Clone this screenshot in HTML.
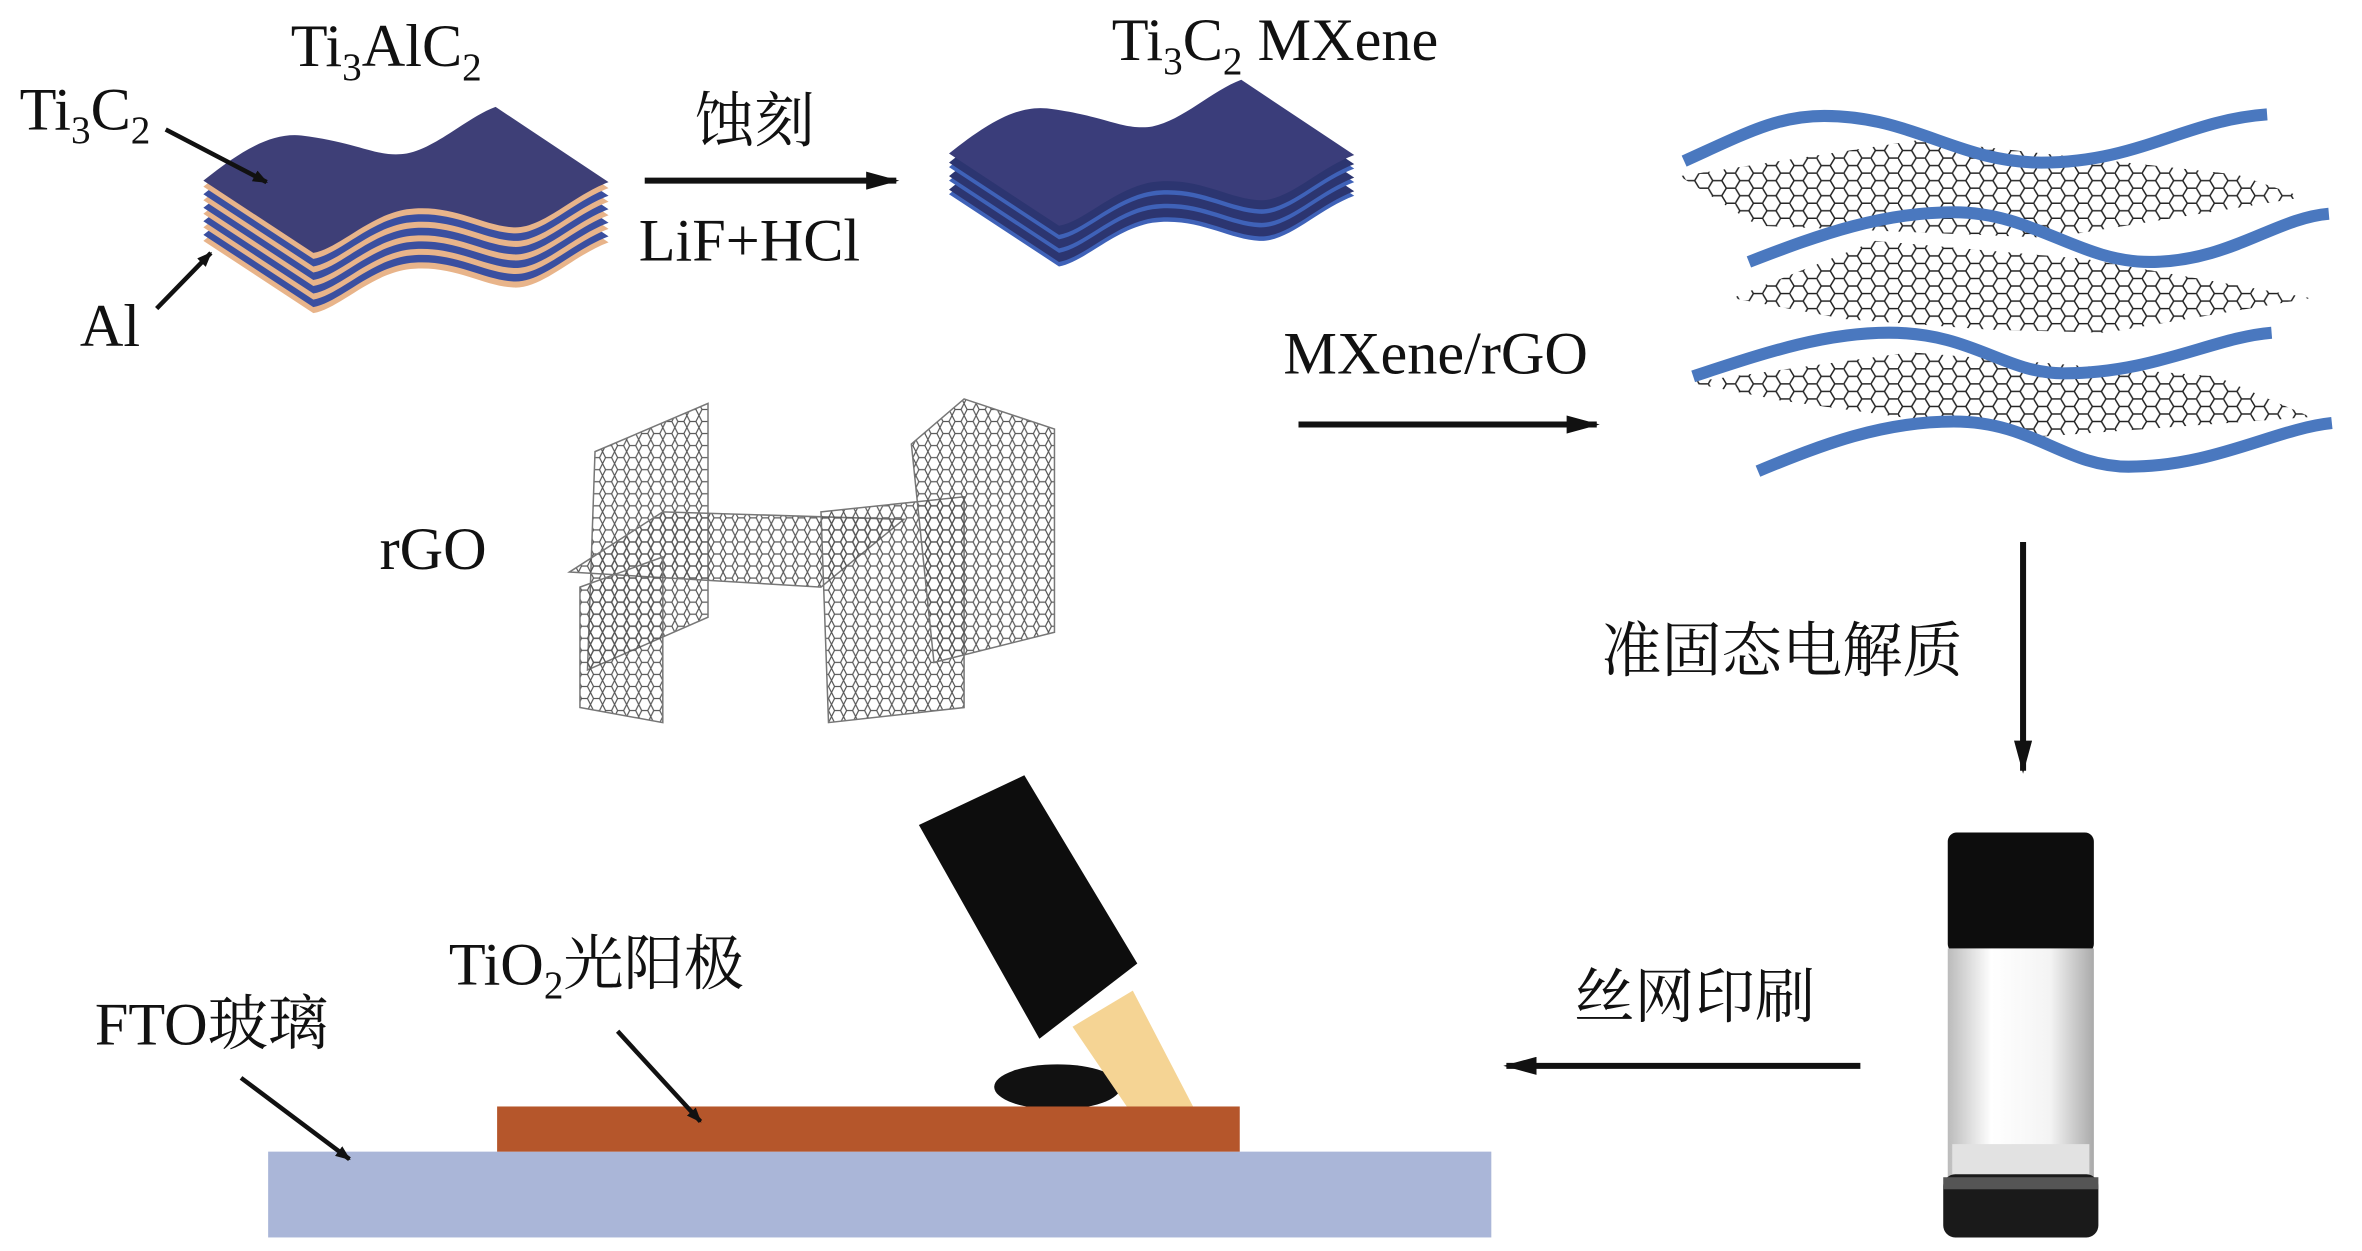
<!DOCTYPE html>
<html><head><meta charset="utf-8"><style>
html,body{margin:0;padding:0;background:#fff}
svg{display:block}
text{font-family:"Liberation Serif","Noto Serif CJK SC",serif;font-size:40px;fill:#111}
</style></head><body>
<svg width="2362" height="1251" viewBox="0 0 1568 831" preserveAspectRatio="none" xmlns="http://www.w3.org/2000/svg">
<defs>
<marker id="ah" markerWidth="10" markerHeight="8" refX="9" refY="4" orient="auto" markerUnits="userSpaceOnUse"><path d="M0,0 L10,4 L0,8 Z" fill="#111"/></marker>
<marker id="ah2" markerWidth="22" markerHeight="12" refX="20" refY="6" orient="auto" markerUnits="userSpaceOnUse"><path d="M0,0 L22,6 L0,12 Z" fill="#111"/></marker>
<pattern id="hex" width="18" height="10" patternUnits="userSpaceOnUse">
<path d="M0,5 L3,0 L9,0 L12,5 L9,10 L3,10 Z M12,5 L18,5" fill="none" stroke="#222" stroke-width="1"/>
</pattern>
<pattern id="mesh" width="8" height="8" patternUnits="userSpaceOnUse">
<path d="M0,4 L2,0 L6,0 L8,4 L6,8 L2,8 Z" fill="none" stroke="#555" stroke-width="0.8"/>
</pattern>
<path id="sheet" d="M135,120 C160,100 180,88 200,90 C240,95 250,105 270,102 C290,98 310,78 329,71 L404,121 C380,130 360,152 341,151 C320,150 300,135 270,139 C245,143 225,165 208,168 Z"/>
<linearGradient id="bod" x1="0" x2="1"><stop offset="0" stop-color="#bbb"/><stop offset="0.3" stop-color="#fff"/><stop offset="0.7" stop-color="#f4f4f4"/><stop offset="1" stop-color="#aaa"/></linearGradient>
</defs>

<g>
<use href="#sheet" transform="translate(0,40)" fill="#e8b48a"/>
<use href="#sheet" transform="translate(0,36)" fill="#3a4fa0"/>
<use href="#sheet" transform="translate(0,31)" fill="#e8b48a"/>
<use href="#sheet" transform="translate(0,27)" fill="#3a4fa0"/>
<use href="#sheet" transform="translate(0,22)" fill="#e8b48a"/>
<use href="#sheet" transform="translate(0,18)" fill="#3a4fa0"/>
<use href="#sheet" transform="translate(0,13)" fill="#e8b48a"/>
<use href="#sheet" transform="translate(0,9)" fill="#3a4fa0"/>
<use href="#sheet" transform="translate(0,4)" fill="#e8b48a"/>
<use href="#sheet" fill="#3e3f77"/>
</g>
<g transform="translate(495,-18)">
<use href="#sheet" transform="translate(0,27)" fill="#3f62b8"/>
<use href="#sheet" transform="translate(0,24)" fill="#2c3570"/>
<use href="#sheet" transform="translate(0,18)" fill="#3f62b8"/>
<use href="#sheet" transform="translate(0,15)" fill="#2c3570"/>
<use href="#sheet" transform="translate(0,9)" fill="#3f62b8"/>
<use href="#sheet" transform="translate(0,6)" fill="#2c3570"/>
<use href="#sheet" fill="#3a3d7a"/>
</g>

<text x="193" y="44">Ti<tspan font-size="26" dy="9">3</tspan><tspan dy="-9">AlC</tspan><tspan font-size="26" dy="9">2</tspan></text>
<text x="13" y="86">Ti<tspan font-size="26" dy="9">3</tspan><tspan dy="-9">C</tspan><tspan font-size="26" dy="9">2</tspan></text>
<line x1="110" y1="86" x2="177" y2="121" stroke="#111" stroke-width="3" marker-end="url(#ah)"/>
<text x="53" y="230">Al</text>
<line x1="104" y1="205" x2="140" y2="168" stroke="#111" stroke-width="3" marker-end="url(#ah)"/>
<text x="738" y="40">Ti<tspan font-size="26" dy="9">3</tspan><tspan dy="-9">C</tspan><tspan font-size="26" dy="9">2</tspan><tspan dy="-9"> MXene</tspan></text>

<line x1="428" y1="120" x2="595" y2="120" stroke="#111" stroke-width="4" marker-end="url(#ah2)"/>
<text x="461" y="94">蚀刻</text>
<text x="424" y="173">LiF+HCl</text>

<g>
<path d="M1115,117 L1274,93 L1485,116 L1529,131 L1361,158 L1167,150 Z" fill="url(#hex)"/>
<path d="M1150,198 L1245,160 L1384,172 L1534,198 L1398,221 L1320,219 L1225,212 Z" fill="url(#hex)"/>
<path d="M1121,254 L1268,234 L1471,250 L1534,277 L1355,290 L1182,266 Z" fill="url(#hex)"/>
<g fill="none" stroke="#4a78bf" stroke-width="8" stroke-linecap="butt">
<path d="M1118,107 C1160,88 1180,77 1211,77 C1270,77 1300,108 1355,108 C1420,108 1450,80 1505,76"/>
<path d="M1161,174 C1210,155 1250,141 1297,141 C1350,141 1380,174 1427,174 C1480,174 1510,145 1546,142"/>
<path d="M1124,250 C1170,235 1210,221 1254,221 C1310,221 1330,248 1370,248 C1430,248 1470,224 1508,221"/>
<path d="M1167,313 C1210,295 1250,280 1297,280 C1350,280 1370,310 1413,310 C1470,310 1510,285 1548,281"/>
</g>
</g>
<text x="852" y="248">MXene/rGO</text>
<line x1="862" y1="282" x2="1060" y2="282" stroke="#111" stroke-width="4" marker-end="url(#ah2)"/>

<g stroke="#777" stroke-width="1" fill="url(#mesh)">
<path d="M395,300 L470,268 L470,410 L390,445 Z"/>
<path d="M378,380 L440,340 L600,345 L545,390 Z"/>
<path d="M385,390 L440,370 L440,480 L385,470 Z"/>
<path d="M545,340 L640,330 L640,470 L550,480 Z"/>
<path d="M605,295 L640,265 L700,285 L700,420 L620,440 Z"/>
</g>
<text x="252" y="378">rGO</text>

<line x1="1343" y1="360" x2="1343" y2="512" stroke="#111" stroke-width="4" marker-end="url(#ah2)"/>
<text x="1063" y="446">准固态电解质</text>

<rect x="1293" y="553" width="97" height="80" rx="6" fill="#0d0d0d"/>
<rect x="1293" y="630" width="97" height="152" fill="url(#bod)"/>
<rect x="1296" y="760" width="91" height="22" fill="#e2e2e2"/>
<rect x="1290" y="780" width="103" height="42" rx="8" fill="#1a1a1a"/>
<rect x="1290" y="782" width="103" height="8" fill="#555"/>

<text x="1045" y="676">丝网印刷</text>
<line x1="1235" y1="708" x2="1000" y2="708" stroke="#111" stroke-width="4" marker-end="url(#ah2)"/>

<rect x="178" y="765" width="812" height="57" fill="#aab6d8"/>
<ellipse cx="702" cy="722" rx="42" ry="15" fill="#111"/>
<polygon points="712,682 752,658 792,735 748,735" fill="#f5d494"/>
<polygon points="610,548 680,515 755,640 690,690" fill="#0d0d0d"/>
<rect x="330" y="735" width="493" height="30" fill="#b5562b"/>
<text x="298" y="654">TiO<tspan font-size="26" dy="9">2</tspan><tspan dy="-9">光阳极</tspan></text>
<line x1="410" y1="685" x2="465" y2="745" stroke="#111" stroke-width="3" marker-end="url(#ah)"/>
<text x="63" y="694">FTO玻璃</text>
<line x1="160" y1="716" x2="232" y2="770" stroke="#111" stroke-width="3" marker-end="url(#ah)"/>
</svg>
</body></html>
